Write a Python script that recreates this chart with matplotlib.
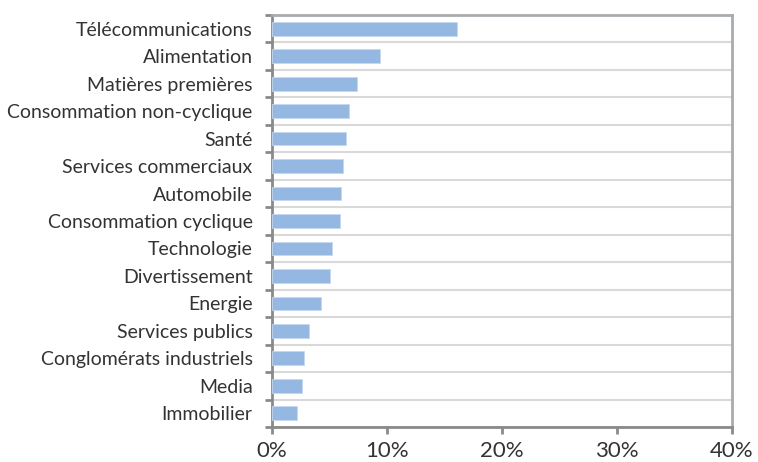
import matplotlib.pyplot as plt
import numpy as np
from matplotlib.ticker import FixedLocator, PercentFormatter

sectors = ['Télécommunications', 'Alimentation', 'Matières premières',
           'Consommation non-cyclique', 'Santé', 'Services commerciaux',
           'Automobile', 'Consommation cyclique', 'Technologie',
           'Divertissement', 'Energie', 'Services publics',
           'Conglomérats industriels', 'Media', 'Immobilier']
weights = [16.1, 9.4, 7.4, 6.7, 6.4, 6.2, 6.0, 5.9, 5.25, 5.05, 4.25, 3.2, 2.8, 2.65, 2.2]
xticks = [0, 10, 20, 30, 40]

plt.rcParams['font.family'] = ['Lato', 'DejaVu Sans']

fig = plt.figure(figsize=(7.58, 4.62), dpi=100)
ax = fig.add_axes([0.3588, 0.0758, 0.6069, 0.8917])

n = len(sectors)
pos = np.arange(n)[::-1]
ax.barh(pos, weights, height=0.5, color='#95b8e2', edgecolor='#c6d8ef', linewidth=0.6, zorder=3)

ax.set_xlim(0, 40)
ax.set_ylim(-0.5, n - 0.5)
ax.set_xticks(xticks)
ax.xaxis.set_major_formatter(PercentFormatter(decimals=0))
ax.set_yticks(pos)
ax.set_yticklabels(sectors)

# gridlines and ticks between categories
bounds = np.arange(n + 1) - 0.5
ax.yaxis.set_minor_locator(FixedLocator(bounds))
ax.grid(which='minor', axis='y', color='#d9d9d9', linewidth=1.5, zorder=0)

ax.tick_params(axis='y', which='major', length=0, pad=14, labelsize=14, labelcolor='#333333')
ax.tick_params(axis='y', which='minor', length=5, width=2, color='#8a8a8a', direction='out')
ax.tick_params(axis='x', length=5, width=2, color='#8a8a8a', pad=5, labelsize=16, labelcolor='#333333')

for side in ['left', 'bottom']:
    ax.spines[side].set_color('#8a8a8a')
    ax.spines[side].set_linewidth(2)
for side in ['top', 'right']:
    ax.spines[side].set_color('#a8acb0')
    ax.spines[side].set_linewidth(2)

fig.savefig('out.png', dpi=100)
